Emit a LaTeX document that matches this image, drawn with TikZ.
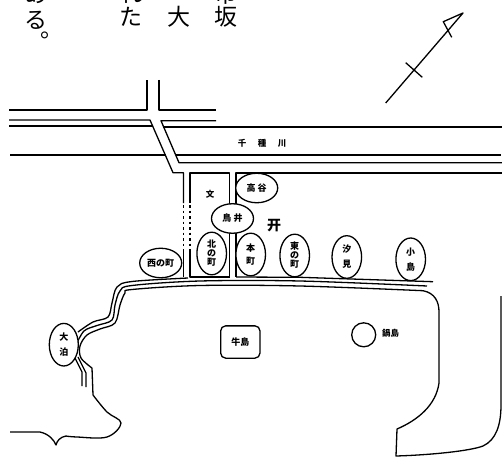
\documentclass[tikz,border=0pt]{standalone}
\usepackage{fontspec}
\setmainfont{Noto Sans CJK JP}
\usetikzlibrary{shapes.geometric}
\tikzset{
  mapline/.style={draw=black,line width=1.3pt,line join=round},
  roadline/.style={mapline},
  dotline/.style={draw=black,line width=1.3pt,dash pattern=on 2.5pt off 3pt},
  town/.style={ellipse,draw=black,fill=white,line width=1.3pt,inner sep=0pt,align=center,font=\fontsize{9}{11}\selectfont\bfseries},
  wide/.style={town,minimum width=42pt,minimum height=29.5pt},
  tall/.style={town,minimum width=29.6pt,minimum height=42.6pt},
  bodytext/.style={inner sep=0pt,font=\fontsize{23}{23}\selectfont},
  tiny/.style={inner sep=0pt,font=\fontsize{8.5}{9}\selectfont\bfseries},
}
\begin{document}
\begin{tikzpicture}[x=1pt,y=-1pt]
\useasboundingbox (0,0) rectangle (502,457);
\fill[white] (0,0) rectangle (502,457);
\begin{scope}
\clip (0,0) rectangle (502,457);
\node[bodytext] (t1) at (36,-6.5) {あ};
\node[bodytext] (t2) at (36,20) {る};
\node[bodytext] (t3) at (52,35) {。};
\node[bodytext] (t4) at (131,-6.5) {れ};
\node[bodytext] (t5) at (131,17) {た};
\node[bodytext] (t6) at (179,17) {大};
\node[bodytext] (t7) at (226,-6.5) {市};
\node[bodytext] (t8) at (226,17) {坂};
\end{scope}
% compass
\draw[mapline] (385.7,103) -- (463,13) -- (443.3,21.7) -- (451.7,37.3);
\draw[mapline] (405.7,62.7) -- (422.3,77.3);
% roads
\draw[roadline] (9,110) -- (147,110) -- (147,80);
\draw[roadline] (159,80) -- (159,110) -- (216,110);
\draw[roadline] (9,120) -- (150,120) -- (173,172.7) -- (183.5,172.7) -- (183.5,203);
\draw[dotline] (183.5,205) -- (183.5,250);
\draw[roadline] (183.5,250) -- (183.5,277);
\draw[roadline] (9,126) -- (153,126);
\draw[roadline] (10,155) -- (165.5,155);
\draw[roadline] (216,120.7) -- (161,120.7) -- (179,162.7) -- (502,162.7);
\draw[roadline] (162.5,127) -- (502,127);
\draw[roadline] (176,155) -- (501,155);
\draw[roadline] (236,250) -- (236,173) -- (502,173);
\draw[roadline] (190,203) -- (190,173) -- (229.5,173) -- (229.5,277);
\draw[dotline] (190,205) -- (190,250);
\draw[roadline] (190,250) -- (190,277) -- (229.5,277);
\draw[roadline] (236,240) -- (236,277);
% triple shoreline
\draw[roadline] (236,277) -- (300,277.3) -- (433,281.7);
\draw[roadline] plot[smooth,tension=0.55] coordinates {(188,278) (132,281.5) (117,287) (112,303) (108,317) (93,322) (78,332)};
\draw[roadline] plot[smooth,tension=0.55] coordinates {(427,286) (300,281) (200,281) (132,285.5) (120,291) (115,305) (112,320) (97,325.5) (84,331) (76,345)};
\draw[roadline] (75,358) -- (82,372) -- (82,386);
\draw[roadline] (78,357) -- (86,373) -- (86,387);
\draw[roadline] plot[smooth,tension=0.55] coordinates {(423,290.7) (300,286) (200,285.5) (132,289.5) (125,293) (120,305) (115,323) (100,329) (87,335) (80,346) (81,358) (92,368)};
\draw[roadline] (92,368) -- (93,395);
\draw[roadline] plot[smooth,tension=0.6] coordinates {(93,395) (107,412) (121,423) (107,437) (77,437) (66,436)};
\draw[roadline] (66,436) .. controls (60,437) and (57,441) .. (56,445) .. controls (54,440) and (49,434) .. (40,432) -- (10,432);
\draw[roadline] (423,290.7) .. controls (435,293) and (439,302) .. (439,312) -- (439,383) .. controls (436,405) and (418,420) .. (397,429) -- (396,456) .. controls (430,455) and (470,451) .. (483,446) .. controls (496,440) and (501,425) .. (501,405) -- (501,296);
% islands
\node[draw=black,fill=white,line width=1.3pt,rounded corners=5pt,minimum width=39.3pt,minimum height=32.3pt,inner sep=0pt,font=\fontsize{9}{9}\selectfont\bfseries] (ushi) at (240.3,342) {牛島};
\node[circle,draw=black,fill=white,line width=1.3pt,minimum size=24pt,inner sep=0pt] (nabe) at (363.7,334.8) {};
\node[tiny] (nabel) at (390.7,333.3) {鍋島};
% towns
\node[wide] (takaya) at (256.7,188) {高 谷};
\node[wide] (torii) at (232.5,218.5) {鳥 井};
\node[tall] (kita) at (211.7,253.5) {北\\[-2pt]の\\[-2pt]町};
\node[tall] (hon) at (250.7,254.5) {本\\[2pt]町};
\node[tall] (higashi) at (294.7,255.5) {東\\[-2pt]の\\[-2pt]町};
\node[wide] (nishi) at (160.7,263) {西の町};
\node[tall] (shiomi) at (346.8,257) {汐\\[4pt]見};
\node[tall] (kojima) at (410.7,259.3) {小\\[4pt]島};
\node[tall,minimum width=29pt] (ohaku) at (63.8,344.7) {大\\[4pt]泊};
% labels
\node[tiny] (bun) at (210,194) {文};
\node[inner sep=0pt,font=\fontsize{14}{14}\selectfont\bfseries] (shrine) at (274,226) {开};
\node[tiny] (r1) at (242,143.5) {千};
\node[tiny] (r2) at (262,143.5) {種};
\node[tiny] (r3) at (282,143.5) {川};
\end{tikzpicture}
\end{document}
